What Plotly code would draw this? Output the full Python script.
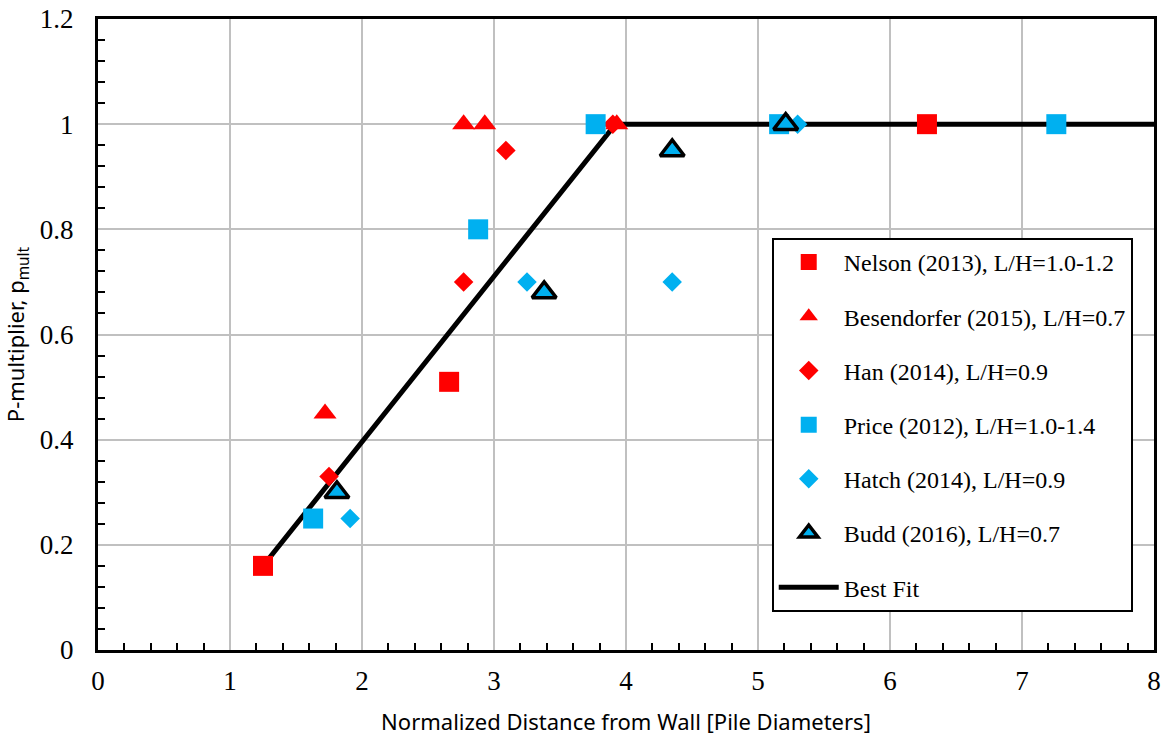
import plotly.graph_objects as go

RED = "#FF0000"
BLUE = "#00B0F0"

nelson_x = [1.25, 2.66, 6.28]
nelson_y = [0.16, 0.51, 1.0]
besen_x = [1.72, 2.77, 2.93, 3.93]
besen_y = [0.45, 1.0, 1.0, 1.0]
han_x = [1.75, 2.77, 3.09, 3.9]
han_y = [0.33, 0.70, 0.95, 1.0]
price_x = [1.63, 2.88, 3.77, 5.16, 7.26]
price_y = [0.25, 0.80, 1.0, 1.0, 1.0]
hatch_x = [1.91, 3.25, 4.35, 5.30]
hatch_y = [0.25, 0.70, 0.70, 1.0]
budd_x = [1.81, 3.38, 4.35, 5.21]
budd_y = [0.30, 0.68, 0.95, 1.0]
fit_x = [1.26, 3.92, 8.0]
fit_y = [0.163, 1.0, 1.0]

fig = go.Figure()

fig.add_trace(go.Scatter(x=fit_x, y=fit_y, mode="lines", name="Best Fit",
                         line=dict(color="black", width=5), legendrank=7,
                         legendgroup="g7"))
fig.add_trace(go.Scatter(x=nelson_x, y=nelson_y, mode="markers",
                         name="Nelson (2013), L/H=1.0-1.2", legendrank=1,
                         marker=dict(symbol="square", size=20, color=RED),
                         legendgroup="g1"))
fig.add_trace(go.Scatter(x=besen_x, y=besen_y, mode="markers",
                         name="Besendorfer (2015), L/H=0.7", legendrank=2,
                         marker=dict(symbol="triangle-up", size=20, color=RED),
                         legendgroup="g2"))
fig.add_trace(go.Scatter(x=han_x, y=han_y, mode="markers",
                         name="Han (2014), L/H=0.9", legendrank=3,
                         marker=dict(symbol="diamond", size=15, color=RED),
                         legendgroup="g3"))
fig.add_trace(go.Scatter(x=price_x, y=price_y, mode="markers",
                         name="Price (2012), L/H=1.0-1.4", legendrank=4,
                         marker=dict(symbol="square", size=20, color=BLUE),
                         legendgroup="g4"))
fig.add_trace(go.Scatter(x=hatch_x, y=hatch_y, mode="markers",
                         name="Hatch (2014), L/H=0.9", legendrank=5,
                         marker=dict(symbol="diamond", size=15, color=BLUE),
                         legendgroup="g5"))
fig.add_trace(go.Scatter(x=budd_x, y=budd_y, mode="markers",
                         name="Budd (2016), L/H=0.7", legendrank=6,
                         marker=dict(symbol="triangle-up", size=21, color=BLUE,
                                     line=dict(color="black", width=3.5)),
                         legendgroup="g6"))

tick_font = dict(family="Liberation Serif", size=27, color="black")
title_font = dict(family="Noto Sans", size=22, color="black")

fig.update_xaxes(range=[0, 8], dtick=1, tick0=0, showgrid=True,
                 gridcolor="#C0C0C0", gridwidth=2, automargin=False,
                 showline=True, linecolor="black", linewidth=3, mirror=True,
                 ticks="", tickfont=tick_font, ticklabelstandoff=5,
                 minor=dict(ticks="inside", dtick=0.2, ticklen=7, tickwidth=2,
                            tickcolor="black", showgrid=False),
                 zeroline=False,
                 title=dict(text="Normalized Distance from Wall [Pile Diameters]",
                            font=title_font, standoff=20))
fig.update_yaxes(range=[0, 1.2], dtick=0.2, tick0=0, showgrid=True,
                 gridcolor="#C0C0C0", gridwidth=2, automargin=False,
                 showline=True, linecolor="black", linewidth=3, mirror=True,
                 ticks="", tickfont=tick_font, ticklabelstandoff=16,
                 minor=dict(ticks="inside", dtick=0.04, ticklen=7, tickwidth=2,
                            tickcolor="black", showgrid=False),
                 zeroline=False,
                 title=dict(text="P-multiplier, p<sub>mult</sub>",
                            font=title_font, standoff=14))

fig.update_layout(
    width=1167, height=740,
    margin=dict(l=98, r=13, t=19, b=90),
    plot_bgcolor="white", paper_bgcolor="white",
    font=dict(family="Liberation Serif", size=24, color="black"),
    legend=dict(x=0.638, y=0.653, xanchor="left", yanchor="top",
                bgcolor="white", bordercolor="black", borderwidth=2,
                font=dict(family="Liberation Serif", size=24, color="black"),
                tracegroupgap=20, itemwidth=60),
)

fig.write_html("out.html", config={"displayModeBar": False},
               post_script="document.body.style.margin='0';document.body.style.overflow='hidden';")
